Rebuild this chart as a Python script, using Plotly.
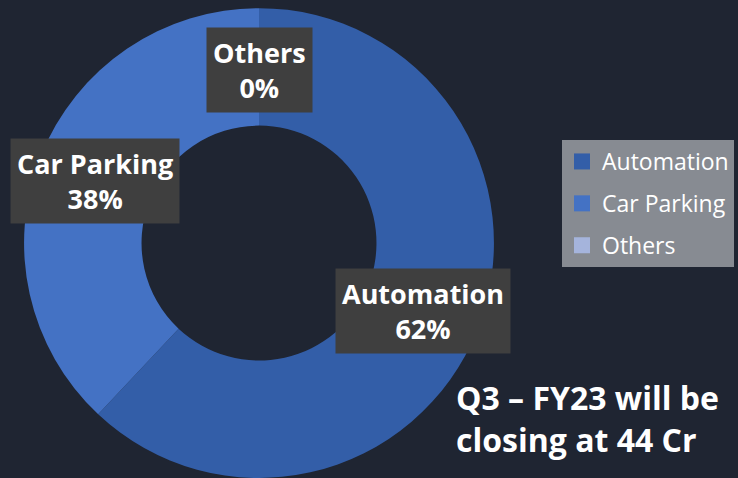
import math
import plotly.graph_objects as go

categories = ["Automation", "Car Parking", "Others"]
values = [62, 38, 0]
colors = ["#335ea8", "#4472c4", "#a5b4dc"]
note_lines = ["Q3 – FY23 will be", "closing at 44 Cr"]

W, H = 738, 478
BG = "#1f2532"
dom_x = [0.0325, 0.6694]
dom_y = [0.0, 0.983]
hole = 0.5

fig = go.Figure()
fig.add_trace(go.Pie(
    labels=categories, values=values, sort=False, direction="clockwise",
    rotation=0, hole=hole, marker=dict(colors=colors, line=dict(width=0)),
    textinfo="none", hoverinfo="label+percent",
    domain=dict(x=dom_x, y=dom_y), showlegend=False,
))

# legend entries (one group each so the rows can be spaced like the reference)
for cat, col in zip(categories, colors):
    fig.add_trace(go.Scatter(
        x=[None], y=[None], mode="markers", name=cat, legendgroup=cat,
        marker=dict(symbol="square", size=16, color=col), showlegend=True,
    ))

# label boxes at the middle of each ring slice
cx = (dom_x[0] + dom_x[1]) / 2 * W
cy = (dom_y[0] + dom_y[1]) / 2 * H
r_out = min((dom_x[1] - dom_x[0]) * W, (dom_y[1] - dom_y[0]) * H) / 2
r_mid = r_out * (1 + hole) / 2
total = sum(values)
cum = 0
for cat, v in zip(categories, values):
    frac_mid = (cum + v / 2) / total
    cum += v
    th = 2 * math.pi * frac_mid
    px = cx + r_mid * math.sin(th)
    py = cy + r_mid * math.cos(th)
    pct = round(100 * v / total)
    fig.add_annotation(
        x=px / W, y=py / H, xref="paper", yref="paper", yshift=-3,
        text=f"<b>{cat}<br>{pct}%</b>", showarrow=False,
        font=dict(family="Open Sans", size=27, color="white"),
        bgcolor="#3f3f3f", borderpad=6, align="center",
        xanchor="center", yanchor="middle",
    )

fig.add_annotation(
    x=454 / W, y=1 - 374 / H, xref="paper", yref="paper",
    text="<b>" + "<br>".join(note_lines) + "</b>", showarrow=False,
    font=dict(family="Open Sans", size=32, color="white"),
    align="left", xanchor="left", yanchor="top",
)

fig.update_layout(
    width=W, height=H, margin=dict(l=0, r=0, t=0, b=0),
    paper_bgcolor=BG, plot_bgcolor=BG,
    xaxis=dict(visible=False), yaxis=dict(visible=False),
    legend=dict(
        x=562 / W, y=1 - 140 / H, xanchor="left", yanchor="top",
        bgcolor="#878b92", font=dict(family="Open Sans", size=23, color="white"),
        itemwidth=30, tracegroupgap=9,
    ),
)

fig.write_html(
    "out.html",
    config={"displayModeBar": False},
    post_script="document.body.style.margin='0';document.body.style.background='%s';" % BG,
)
